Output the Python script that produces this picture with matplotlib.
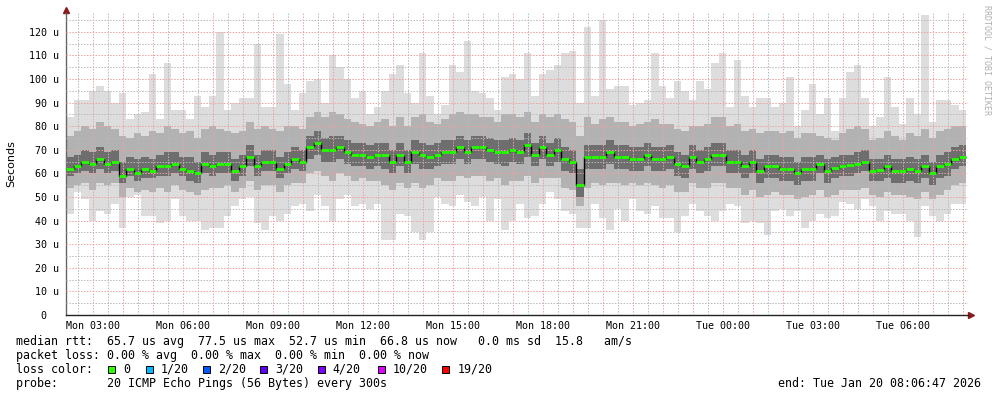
import matplotlib.pyplot as plt
from matplotlib.patches import Rectangle

# smokeping rtt over 30h in 15 min bins (values in us)
start_h = 2.113   # Mon 02:06:47, hours since Mon 00:00
step_h = 0.25

median = [62, 63, 65, 64, 66, 64, 65, 59, 62, 60, 62, 61, 63, 63, 64, 62, 61, 60, 64, 63,
          64, 64, 61, 63, 67, 63, 65, 65, 62, 64, 66, 65, 71, 73, 70, 70, 71, 69, 68, 68,
          67, 68, 68, 65, 68, 65, 69, 68, 67, 68, 69, 69, 71, 69, 71, 71, 70, 69, 69, 70,
          69, 72, 68, 71, 68, 70, 66, 65, 55, 67, 67, 67, 69, 67, 67, 66, 66, 68, 66, 66,
          67, 64, 63, 67, 65, 66, 68, 68, 65, 65, 63, 65, 61, 63, 63, 62, 62, 60, 62, 62,
          64, 61, 62.5, 63, 63.5, 64, 65, 61, 61.5, 63, 61, 61, 62, 61, 63, 60, 63, 64, 66, 67]

ping_min = [43, 52, 49, 40, 44, 43, 47, 37, 50, 51, 42, 42, 39, 40, 49, 42, 40, 40, 36, 37,
            37, 42, 46, 49, 50, 39, 36, 42, 40, 43, 46, 47, 44, 51, 46, 40, 49, 51, 46, 47,
            45, 47, 32, 32, 43, 42, 35, 32, 35, 50, 47, 46, 51, 48, 46, 50, 40, 49, 36, 40,
            47, 41, 42, 47, 52, 49, 44, 43, 37, 37, 47, 41, 36, 45, 40, 49, 44, 43, 46, 41,
            41, 35, 42, 47, 44, 42, 40, 44, 47, 46, 39, 40, 39, 34, 44, 45, 42, 44, 37, 40,
            43, 41, 42, 48, 47, 45, 49, 46, 40, 44, 43, 43, 40, 33, 46, 42, 40, 43, 47, 47]

ping_max = [84, 91, 91, 95, 97, 95, 90, 94, 83, 85, 86, 102, 83, 107, 87, 87, 83, 93, 88, 93,
            120, 87, 90, 92, 92, 115, 88, 88, 119, 98, 87, 94, 99, 100, 90, 110, 105, 100, 92, 95,
            85, 88, 95, 102, 106, 94, 90, 111, 93, 85, 89, 106, 103, 116, 95, 94, 92, 87, 101, 102,
            100, 111, 93, 102, 104, 106, 111, 112, 90, 122, 93, 125, 96, 97, 97, 89, 90, 91, 111, 97,
            92, 99, 95, 91, 99, 96, 107, 111, 88, 108, 93, 88, 92, 92, 88, 90, 101, 80, 87, 98,
            85, 92, 78, 92, 103, 106, 92, 80, 84, 101, 88, 81, 92, 85, 127, 82, 91, 91, 89, 87]

mid_hi = [76, 78, 80, 79, 82, 80, 79, 76, 75, 77, 76, 78, 77, 80, 79, 77, 78, 75, 79, 80,
          79, 78, 77, 78, 82, 79, 80, 79, 78, 80, 80, 79, 84, 86, 84, 86, 85, 83, 82, 81,
          80, 82, 83, 80, 84, 80, 84, 85, 82, 81, 83, 85, 86, 85, 85, 84, 84, 82, 85, 85,
          84, 86, 82, 85, 84, 85, 83, 82, 76, 84, 81, 83, 84, 82, 82, 80, 81, 82, 83, 81,
          81, 79, 78, 80, 80, 81, 84, 84, 80, 81, 78, 79, 77, 78, 78, 77, 78, 75, 77, 77,
          76, 75, 74, 77, 79, 80, 79, 74, 75, 78, 76, 74, 77, 76, 79, 75, 78, 79, 80, 80]

mid_lo = [54, 55, 56, 53, 56, 55, 56, 50, 54, 52, 53, 52, 54, 52, 55, 53, 52, 51, 53, 54,
          54, 55, 52, 54, 57, 53, 55, 55, 52, 55, 56, 56, 60, 61, 59, 57, 60, 59, 57, 58,
          57, 57, 55, 53, 56, 54, 56, 54, 55, 58, 57, 57, 59, 58, 59, 59, 57, 58, 55, 57,
          57, 59, 56, 58, 58, 58, 54, 53, 46, 54, 56, 55, 56, 56, 55, 56, 55, 56, 55, 54,
          55, 52, 52, 56, 54, 54, 56, 56, 54, 54, 51, 53, 50, 51, 52, 51, 51, 49, 50, 51,
          53, 50, 51, 53, 53, 53, 54, 51, 50, 52, 51, 51, 50, 49, 52, 49, 51, 53, 55, 56]

core_hi = [67, 68, 70, 69, 71, 69, 70, 65, 67, 66, 67, 66, 68, 69, 69, 67, 67, 65, 69, 68,
           69, 69, 66, 68, 72, 68, 70, 70, 67, 69, 71, 70, 76, 78, 75, 76, 76, 74, 73, 73,
           72, 73, 73, 70, 73, 70, 74, 73, 72, 73, 74, 74, 76, 74, 76, 76, 75, 74, 74, 75,
           74, 77, 73, 76, 73, 75, 71, 70, 62, 72, 72, 72, 74, 72, 72, 71, 71, 73, 71, 71,
           72, 69, 68, 72, 70, 71, 73, 73, 70, 70, 68, 70, 66, 68, 68, 67, 67, 65, 67, 67,
           68, 66, 67, 68, 68, 69, 70, 66, 66, 68, 66, 66, 67, 66, 68, 65, 68, 69, 71, 72]

core_lo = [59, 60, 61, 60, 62, 60, 61, 56, 59, 57, 58, 58, 59, 59, 60, 59, 57, 56, 60, 59,
           60, 60, 57, 59, 63, 59, 61, 61, 58, 60, 62, 61, 66, 68, 65, 65, 66, 64, 63, 63,
           62, 63, 62, 60, 63, 60, 64, 62, 62, 63, 64, 64, 66, 64, 66, 66, 65, 64, 63, 65,
           64, 67, 63, 66, 63, 65, 61, 60, 50, 62, 62, 62, 64, 62, 62, 61, 61, 63, 61, 61,
           62, 59, 58, 62, 60, 61, 63, 63, 60, 60, 58, 60, 56, 58, 58, 57, 57, 55, 57, 57,
           60, 56, 58, 59, 59, 60, 61, 57, 57, 58, 56, 56, 57, 56, 58, 55, 58, 59, 62, 63]

tick_hours = [3, 6, 9, 12, 15, 18, 21, 24, 27, 30]
tick_labels = ['Mon 03:00', 'Mon 06:00', 'Mon 09:00', 'Mon 12:00', 'Mon 15:00',
               'Mon 18:00', 'Mon 21:00', 'Tue 00:00', 'Tue 03:00', 'Tue 06:00']

loss_labels = ['0', '1/20', '2/20', '3/20', '4/20', '10/20', '19/20']
loss_colors = ['#26ff00', '#00b8ff', '#0059ff', '#5e00ff', '#7e00ff', '#dd00ff', '#ff0000']

W, H = 997, 397
MONO = 'DejaVu Sans Mono'


def fx(x):
	return x / W


def fy(y):
	return 1 - y / H


fig = plt.figure(figsize=(W / 100, H / 100), dpi=100)
ax = fig.add_axes([fx(66), fy(315), (968 - 66) / W, (315 - 13) / H])

edges = [start_h + i * step_h for i in range(len(median) + 1)]

# smoke
ax.stairs(ping_max, edges, baseline=ping_min, fill=True, color='#dddddd', lw=0, zorder=1)
ax.stairs(mid_hi, edges, baseline=mid_lo, fill=True, color='#b2b2b2', lw=0, zorder=2)
ax.stairs(core_hi, edges, baseline=core_lo, fill=True, color='#6e6e6e', lw=0, zorder=3)

# grid on top of the smoke, like rrdtool
x0, x1 = start_h, start_h + (968 - 66) / 30.0
ax.set_xlim(x0, x1)
ax.set_ylim(0, 128)
dots = (0, (1.5, 1.5))
for h in range(3, 33):
	ax.axvline(h - 0.5, color='#b8b8b8', lw=0.7, ls=dots, zorder=4)
	ax.axvline(h, color='#eea0a0', lw=0.7, ls=dots, zorder=4)
for v in range(5, 126, 10):
	ax.axhline(v, color='#b8b8b8', lw=0.7, ls=dots, zorder=4)
for v in range(10, 121, 10):
	ax.axhline(v, color='#eea0a0', lw=0.7, ls=dots, zorder=4)

# median
ax.stairs(median, edges, baseline=None, color='black', lw=1, zorder=5)
ax.hlines(median, edges[:-1], edges[1:], color=loss_colors[0], lw=2, zorder=6)

# axes
for s in ['top', 'right']:
	ax.spines[s].set_visible(False)
ax.spines['left'].set_color('#666666')
ax.spines['bottom'].set_color('#222222')
ax.spines['left'].set_linewidth(1)
ax.spines['bottom'].set_linewidth(1)
ax.plot([0], [1.01], marker='^', color='#8b1a1a', ms=4, transform=ax.transAxes, clip_on=False)
ax.plot([1.003], [0], marker='>', color='#8b1a1a', ms=4, transform=ax.transAxes, clip_on=False)

yt = list(range(0, 121, 10))
ax.set_yticks(yt)
ax.set_yticklabels(['0  ' if v == 0 else '%d u' % v for v in yt], family=MONO, fontsize=7.2)
ax.set_xticks(tick_hours)
ax.set_xticklabels(tick_labels, family=MONO, fontsize=7.2)
ax.tick_params(axis='y', length=0, pad=5)
ax.tick_params(axis='x', length=0, pad=4)

fig.text(fx(11), fy(164), 'Seconds', rotation=90, ha='center', va='center', fontsize=8)
fig.text(fx(987), fy(60), 'RRDTOOL / TOBI OETIKER', rotation=-90, ha='center', va='center',
         family=MONO, fontsize=6, color='#b0b0b0')

# legend block
lines = [
	(341, 'median rtt:  65.7 us avg  77.5 us max  52.7 us min  66.8 us now   0.0 ms sd  15.8   am/s'),
	(355.3, 'packet loss: 0.00 % avg  0.00 % max  0.00 % min  0.00 % now'),
	(369.3, 'loss color:'),
	(383.3, 'probe:       20 ICMP Echo Pings (56 Bytes) every 300s'),
]
for y, t in lines:
	fig.text(fx(16), fy(y), t, ha='left', va='center', family=MONO, fontsize=8.4)

box_x = [108.3, 145.7, 203.3, 260, 317.7, 377.7, 442.3]
lab_x = [123.3, 160.7, 218, 275.7, 332.7, 393, 457.7]
for bx, lx, lab, col in zip(box_x, lab_x, loss_labels, loss_colors):
	fig.patches.append(Rectangle((fx(bx), fy(373)), 7 / W, 7 / H, transform=fig.transFigure,
	                             facecolor=col, edgecolor='black', lw=0.7))
	fig.text(fx(lx), fy(369.3), lab, ha='left', va='center', family=MONO, fontsize=8.4)

fig.text(fx(981), fy(383.3), 'end: Tue Jan 20 08:06:47 2026', ha='right', va='center',
         family=MONO, fontsize=8.4)

fig.savefig('out.png', dpi=100)
